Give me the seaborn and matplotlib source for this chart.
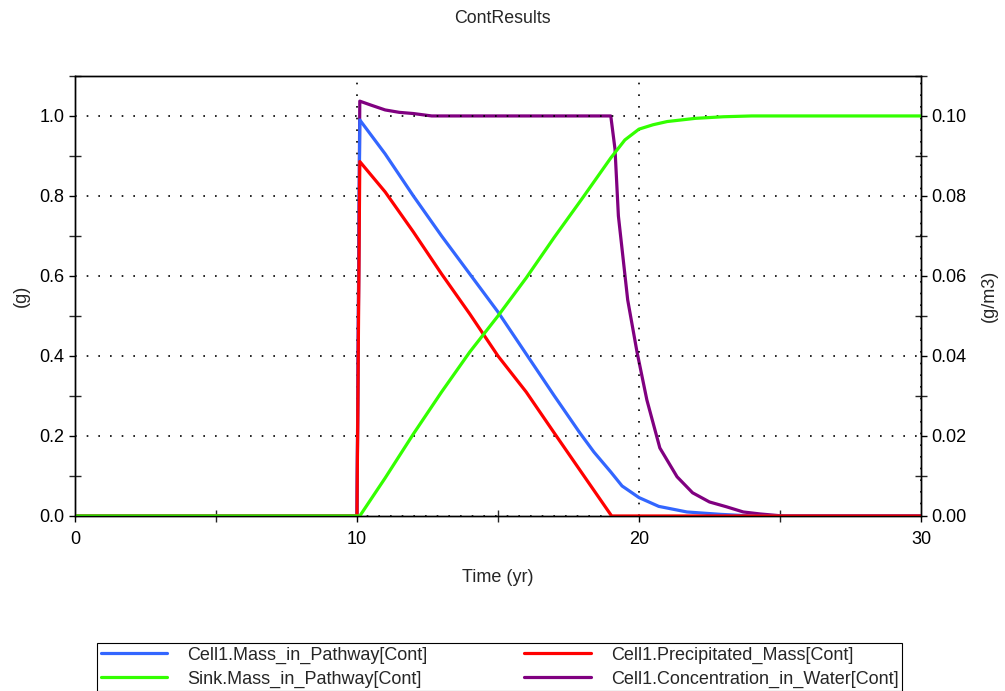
import numpy as np
import pandas as pd
import matplotlib
matplotlib.use("Agg")
import matplotlib.pyplot as plt
from matplotlib.ticker import MultipleLocator
import seaborn as sns

# Series (time in yr)
t_blue = [0, 10, 10.1, 11, 12, 13, 14, 15, 16, 17, 17.9, 18.4, 19, 19.4, 20, 20.7, 21.7, 22.9, 24, 30]
mass_pathway = [0, 0, 0.99, 0.905, 0.80, 0.70, 0.605, 0.51, 0.405, 0.30, 0.208, 0.16, 0.11, 0.075,
                0.046, 0.024, 0.01, 0.004, 0.0, 0.0]

t_red = [0, 10, 10.1, 11, 12, 13, 14, 15, 16, 17, 18, 19.03, 30]
precip_mass = [0, 0, 0.886, 0.81, 0.71, 0.605, 0.505, 0.40, 0.31, 0.207, 0.105, 0.0, 0.0]

t_green = [0, 10.1, 11, 12, 13, 14, 15, 16, 17, 18, 19, 19.5, 20, 20.5, 21, 21.5, 22, 23, 24, 30]
sink_mass = [0, 0, 0.095, 0.205, 0.31, 0.41, 0.50, 0.595, 0.697, 0.795, 0.895, 0.94, 0.967,
             0.978, 0.986, 0.99, 0.994, 0.998, 1.0, 1.0]

t_purple = [0, 10, 10.1, 10.5, 11, 11.5, 12, 12.65, 19.0, 19.15, 19.27, 19.6, 19.93, 20.28, 20.74,
            21.35, 21.9, 22.5, 23.1, 23.7, 24.3, 25.1, 30]
conc_water = [0, 0, 0.1037, 0.1027, 0.1015, 0.1009, 0.1006, 0.1, 0.1, 0.0917, 0.075, 0.054, 0.041,
              0.029, 0.017, 0.0098, 0.0058, 0.0035, 0.0023, 0.001, 0.0005, 0.0, 0.0]

labels = ["Cell1.Mass_in_Pathway[Cont]", "Cell1.Precipitated_Mass[Cont]",
          "Sink.Mass_in_Pathway[Cont]", "Cell1.Concentration_in_Water[Cont]"]
colors = ["#3366ff", "#ff0000", "#33ff00", "#800080"]

sns.set_theme(style="ticks")
plt.rcParams["font.family"] = ["Liberation Sans", "DejaVu Sans"]

fig = plt.figure(figsize=(10.05, 6.91), dpi=100)
ax = fig.add_axes([0.0746, 0.2533, 0.8418, 0.6368])
ax2 = ax.twinx()
ax.set_zorder(ax2.get_zorder() + 1)
ax.patch.set_visible(False)

lw = 2.3
sns.lineplot(x=t_purple, y=conc_water, ax=ax2, color=colors[3], lw=lw, estimator=None, sort=False)
sns.lineplot(x=t_blue, y=mass_pathway, ax=ax, color=colors[0], lw=lw, estimator=None, sort=False)
sns.lineplot(x=t_red, y=precip_mass, ax=ax, color=colors[1], lw=lw, estimator=None, sort=False)
sns.lineplot(x=t_green, y=sink_mass, ax=ax, color=colors[2], lw=lw, estimator=None, sort=False)

ax.set_xlim(0, 30)
ax.set_ylim(0, 1.1)
ax2.set_ylim(0, 0.11)

ax.xaxis.set_major_locator(MultipleLocator(10))
ax.xaxis.set_minor_locator(MultipleLocator(5))
ax.yaxis.set_major_locator(MultipleLocator(0.2))
ax.yaxis.set_minor_locator(MultipleLocator(0.1))
ax2.yaxis.set_major_locator(MultipleLocator(0.02))
ax2.yaxis.set_minor_locator(MultipleLocator(0.01))
ax.yaxis.set_major_formatter(plt.FormatStrFormatter("%.1f"))
ax2.yaxis.set_major_formatter(plt.FormatStrFormatter("%.2f"))

for a in (ax, ax2):
    a.tick_params(which="major", direction="out", length=4, width=1, labelsize=13, colors="black")
    a.tick_params(which="minor", direction="inout", length=8, width=1)
    for s in a.spines.values():
        s.set_color("black")
        s.set_linewidth(1)
ax.tick_params(axis="x", which="major", pad=7)

ax.grid(True, which="major", color="black", linestyle=(0, (1, 6)), linewidth=1.2)

ax.set_xlabel("Time (yr)", fontsize=13, labelpad=15)
ax.set_ylabel("(g)", fontsize=13, labelpad=7)
ax2.set_ylabel("(g/m3)", fontsize=13, labelpad=10)
ax2.set_xlabel("")

fig.suptitle("ContResults", fontsize=12.8, y=0.985)

# legend fills column-wise: blue, green | red, purple
order = [0, 2, 1, 3]
handles = [plt.Line2D([], [], color=colors[i], lw=lw) for i in order]
leg = fig.legend(handles, [labels[i] for i in order], ncol=2, loc="upper left",
                 bbox_to_anchor=(97 / 1005, 1 - 643 / 691),
                 fontsize=13, frameon=True, fancybox=False, edgecolor="black",
                 framealpha=1, handlelength=3.7, handletextpad=1.1, columnspacing=5.35,
                 borderpad=0.2, labelspacing=0.38, borderaxespad=0)
leg.get_frame().set_linewidth(0.8)

fig.savefig("out.png", dpi=100)
